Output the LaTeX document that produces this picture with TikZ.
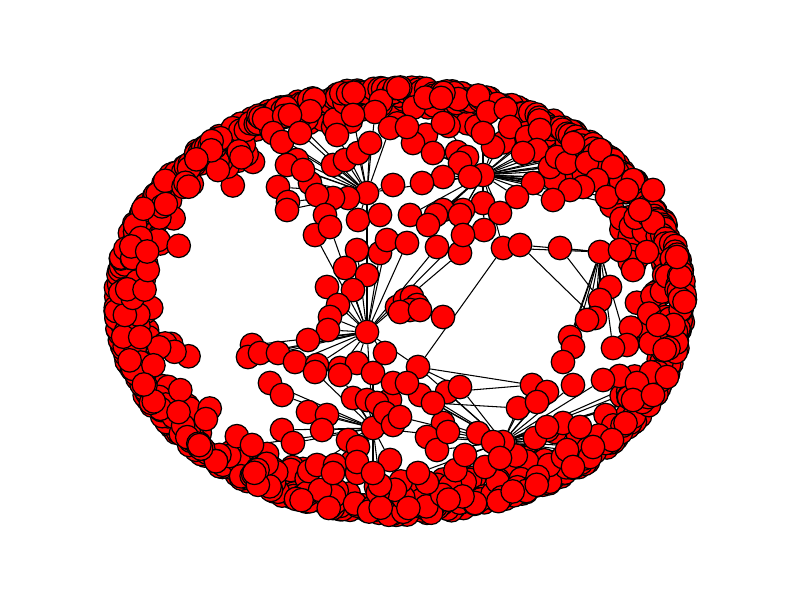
\documentclass[tikz,border=0pt]{standalone}
\usetikzlibrary{backgrounds}
\begin{document}
\begin{tikzpicture}[x=0.01cm,y=-0.01cm,
 vx/.style={circle,draw=black,fill=red,line width=0.35pt,inner sep=0pt,minimum size=0.235cm},
 ed/.style={draw=black,line width=0.3pt}]
\useasboundingbox (0,0) rectangle (800,600);
% outer ring of nodes (outer layer interleaved with a thicker random band)
\pgfmathsetseed{4242}
\foreach \i in {1,...,360}{
  \pgfmathsetmacro\myt{360*rnd}
  \pgfmathsetmacro\myd{62*rnd*rnd}
  \node[vx] (r\i) at ({400+(285-\myd)*cos(\myt)},{301+(214-\myd)*sin(\myt)}) {};
  \pgfmathsetmacro\myt{\i+0.9*rnd}
  \pgfmathsetmacro\myd{9*rnd}
  \node[vx] (s\i) at ({400+(285-\myd)*cos(\myt)},{301+(214-\myd)*sin(\myt)}) {};
  \pgfmathsetmacro\myt{360*rnd}
  \pgfmathsetmacro\myd{40*rnd*rnd}
  \node[vx] (q\i) at ({400+(285-\myd)*cos(\myt)},{301+(214-\myd)*sin(\myt)}) {};
}
% hubs
\node[vx] (hA) at (367,193) {};
\node[vx] (hB) at (483,175) {};
\node[vx] (hC) at (367,332) {};
\node[vx] (hD) at (600,252) {};
\node[vx] (hE) at (373,428) {};
\node[vx] (hF) at (503,442) {};
\node[vx] (hL) at (418,367) {};
\node[vx] (hR) at (503,248) {};
% group A (top left)
\foreach [count=\k] \p in {(273,133),(282,142),(290,115),(300,133),(297,160),(287,165),(278,187),(288,202),(287,210),(310,183),(303,170),(337,135),(333,165),(345,160),(358,153),(370,143),(375,112),(353,115),(390,128),(393,185),(348,198),(333,198),(317,195),(325,215),(358,220),(380,215)}{
  \node[vx] (A\k) at \p {};
  \begin{pgfonlayer}{background}\draw[ed] (hA) -- (A\k);\end{pgfonlayer}
}
% group B (top centre)
\foreach [count=\k] \p in {(443,123),(413,143),(407,127),(433,153),(457,152),(467,157),(460,163),(443,177),(422,183),(470,177),(493,147),(483,133),(510,127),(527,137),(540,130),(537,150),(523,153),(550,167),(557,157),(567,163),(587,163),(573,143),(600,150),(613,167),(633,180),(597,180),(607,197),(583,187),(570,190),(553,200),(533,183),(517,197),(483,203),(500,213),(463,210),(443,210),(640,210),(653,190),(627,190),(436,215),(460,215),(484,230),(410,215),(428,225)}{
  \node[vx] (B\k) at \p {};
  \begin{pgfonlayer}{background}\draw[ed] (hB) -- (B\k);\end{pgfonlayer}
}
% group C (middle left)
\foreach [count=\k] \p in {(315,235),(330,227),(357,250),(380,253),(387,240),(345,268),(367,275),(327,287),(353,290),(338,305),(330,317),(328,330),(308,340),(252,345),(248,357),(260,353),(278,353),(295,362),(317,365),(340,368),(357,363),(385,353),(407,243),(437,247),(460,253),(463,235)}{
  \node[vx] (C\k) at \p {};
  \begin{pgfonlayer}{background}\draw[ed] (hC) -- (C\k);\end{pgfonlayer}
}
% small isolated cluster
\foreach [count=\k] \p in {(397,307),(405,300),(412,297),(417,305),(410,310),(400,312),(420,310)}{
  \node[vx] (K\k) at \p {};
}
\node[vx] (K8) at (443,317) {};
% group D (right)
\foreach [count=\k] \p in {(520,245),(560,248),(620,250),(633,270),(647,252),(677,257),(610,287),(600,300),(595,318),(587,320),(570,337),(573,347),(627,345),(613,348),(563,362)}{
  \node[vx] (D\k) at \p {};
  \begin{pgfonlayer}{background}\draw[ed] (hD) -- (D\k);\end{pgfonlayer}
}
% group E (lower left)
\foreach [count=\k] \p in {(270,383),(282,395),(308,412),(327,415),(322,430),(282,430),(293,443),(252,445),(317,465),(335,465),(348,440),(358,447),(357,473),(380,485),(390,400),(353,398),(367,400),(315,372),(340,375),(373,373),(393,383),(377,403),(385,413),(393,425),(390,460),(357,462),(333,473),(373,473)}{
  \node[vx] (E\k) at \p {};
  \begin{pgfonlayer}{background}\draw[ed] (hE) -- (E\k);\end{pgfonlayer}
}
% group F (lower right)
\foreach [count=\k] \p in {(532,385),(547,392),(573,385),(603,380),(518,408),(443,423),(420,395),(478,433),(535,438),(563,423),(580,427),(465,455),(485,467),(418,473),(563,457),(590,457),(612,440),(648,397),(637,383),(667,377),(447,392),(433,403),(460,387),(407,383),(400,417),(427,437),(437,450),(448,432),(493,442),(500,458),(547,427),(537,402),(567,450),(573,467),(593,447),(633,400),(653,395)}{
  \node[vx] (F\k) at \p {};
  \begin{pgfonlayer}{background}\draw[ed] (hF) -- (F\k);\end{pgfonlayer}
}
\begin{pgfonlayer}{background}
\draw[ed] (hL) -- (hR);
\draw[ed] (hR) -- (hD);
\draw[ed] (hR) -- (hB);
\draw[ed] (hC) -- (hA);
\draw[ed] (hC) -- (hE);
\draw[ed] (hL) -- (hC);
\draw[ed] (hL) -- (hF);
\draw[ed] (hL) -- (F23);
\draw[ed] (hL) -- (F1);
\draw[ed] (F21) -- (F1);
\draw[ed] (F22) -- (F5);
\draw[ed] (K2) -- (K8);
\draw[ed] (K1) -- (K3);
\draw[ed] (D8) -- (D2);
\draw[ed] (D9) -- (D1);
\draw[ed] (hA) -- (hB);
\draw[ed] (hE) -- (hF);
\end{pgfonlayer}
\end{tikzpicture}
\end{document}
